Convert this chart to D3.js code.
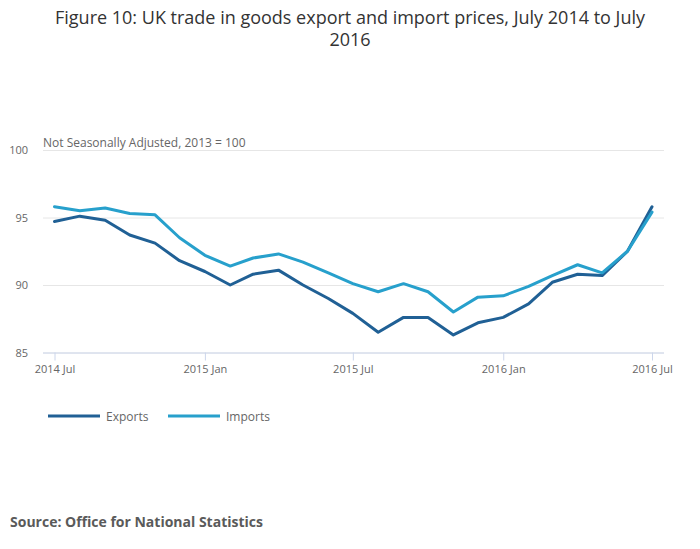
<!DOCTYPE html>
<html>
<head>
<meta charset="utf-8">
<script src="https://cdn.jsdelivr.net/npm/d3@7"></script>
<style>
  body { margin: 0; background: #fff; font-family: "Open Sans", sans-serif; }
  .tick text { font-family: "Open Sans", sans-serif; }
</style>
</head>
<body>
<svg id="chart" width="700" height="549"></svg>
<script>
// monthly data, Jul 2014 .. Jul 2016
var months = ["2014-07","2014-08","2014-09","2014-10","2014-11","2014-12",
    "2015-01","2015-02","2015-03","2015-04","2015-05","2015-06",
    "2015-07","2015-08","2015-09","2015-10","2015-11","2015-12",
    "2016-01","2016-02","2016-03","2016-04","2016-05","2016-06","2016-07"];

var exportsVals = [94.7, 95.1, 94.8, 93.7, 93.1, 91.8,
    91.0, 90.0, 90.8, 91.1, 90.0, 89.0,
    87.9, 86.5, 87.6, 87.6, 86.3, 87.2,
    87.6, 88.6, 90.2, 90.8, 90.7, 92.5, 95.8];

var importsVals = [95.8, 95.5, 95.7, 95.3, 95.2, 93.5,
    92.2, 91.4, 92.0, 92.3, 91.7, 90.9,
    90.1, 89.5, 90.1, 89.5, 88.0, 89.1,
    89.2, 89.9, 90.7, 91.5, 90.9, 92.5, 95.4];

var yTicks = [85, 90, 95, 100];
var xTickMonths = ["2014-07", "2015-01", "2015-07", "2016-01", "2016-07"];

var seriesNames = ["Exports", "Imports"];
var seriesColors = ["#206095", "#27a0cc"];

var parseMonth = d3.timeParse("%Y-%m");

var svg = d3.select("#chart");

var plot = {left: 43, right: 664, top: 150, bottom: 352.5};

var xScale = d3.scaleTime()
    .domain([parseMonth(months[0]), parseMonth(months[months.length - 1])])
    .range([54.5, 652]);

var yScale = d3.scaleLinear()
    .domain([85, 100])
    .range([plot.bottom, plot.top]);

// title
var title = svg.append("text")
    .attr("x", 350)
    .attr("y", 24)
    .attr("text-anchor", "middle")
    .style("font-size", "18px")
    .style("fill", "#333333");
title.append("tspan").attr("x", 350).text("Figure 10: UK trade in goods export and import prices, July 2014 to July");
title.append("tspan").attr("x", 350).attr("dy", 22).text("2016");

// gridlines + y labels
svg.append("g")
    .attr("class", "y-axis")
    .attr("transform", "translate(" + plot.left + ",0)")
    .call(d3.axisLeft(yScale)
        .tickValues(yTicks)
        .tickSize(-(plot.right - plot.left))
        .tickPadding(15)
    )
    .call(function(g) {
        g.select(".domain").remove();
        g.selectAll(".tick line").attr("stroke", "#e6e6e6");
        g.selectAll(".tick text")
            .style("font-size", "11px")
            .attr("fill", "#666666");
    });

// subtitle
svg.append("text")
    .attr("x", 43)
    .attr("y", 147)
    .style("font-size", "12px")
    .style("fill", "#666666")
    .text("Not Seasonally Adjusted, 2013 = 100");

// x axis
svg.append("g")
    .attr("class", "x-axis")
    .attr("transform", "translate(0," + plot.bottom + ")")
    .call(d3.axisBottom(xScale)
        .tickValues(xTickMonths.map(parseMonth))
        .tickSize(8)
        .tickSizeOuter(0)
        .tickPadding(5)
        .tickFormat(d3.timeFormat("%Y %b"))
    )
    .call(function(g) {
        g.select(".domain")
            .attr("d", "M" + plot.left + ",0.5H" + plot.right)
            .attr("stroke", "#ccd6eb");
        g.selectAll(".tick line").attr("stroke", "#ccd6eb");
        g.selectAll(".tick text")
            .style("font-size", "11px")
            .attr("fill", "#666666");
    });

// lines
var line = d3.line()
    .x(function(d) { return xScale(d.date); })
    .y(function(d) { return yScale(d.value); });

[exportsVals, importsVals].forEach(function(vals, i) {
    var df = vals.map(function(v, j) { return {date: parseMonth(months[j]), value: v}; });
    svg.append("path")
        .datum(df)
        .attr("fill", "none")
        .attr("stroke", seriesColors[i])
        .attr("stroke-width", 3)
        .attr("stroke-linejoin", "round")
        .attr("stroke-linecap", "round")
        .attr("d", line);
});

// legend
var legend = svg.append("g").attr("transform", "translate(48,416)");
var legendX = [0, 120];
seriesNames.forEach(function(name, i) {
    var item = legend.append("g").attr("transform", "translate(" + legendX[i] + ",0)");
    item.append("line")
        .attr("x1", 0).attr("x2", 52)
        .attr("y1", 0).attr("y2", 0)
        .attr("stroke", seriesColors[i])
        .attr("stroke-width", 3);
    item.append("text")
        .attr("x", 58)
        .attr("y", 5)
        .style("font-size", "12px")
        .style("fill", "#666666")
        .text(name);
});

// source
svg.append("text")
    .attr("x", 10)
    .attr("y", 527)
    .style("font-size", "14px")
    .style("font-weight", "bold")
    .style("fill", "#5a5a5a")
    .text("Source: Office for National Statistics");
</script>
</body>
</html>
